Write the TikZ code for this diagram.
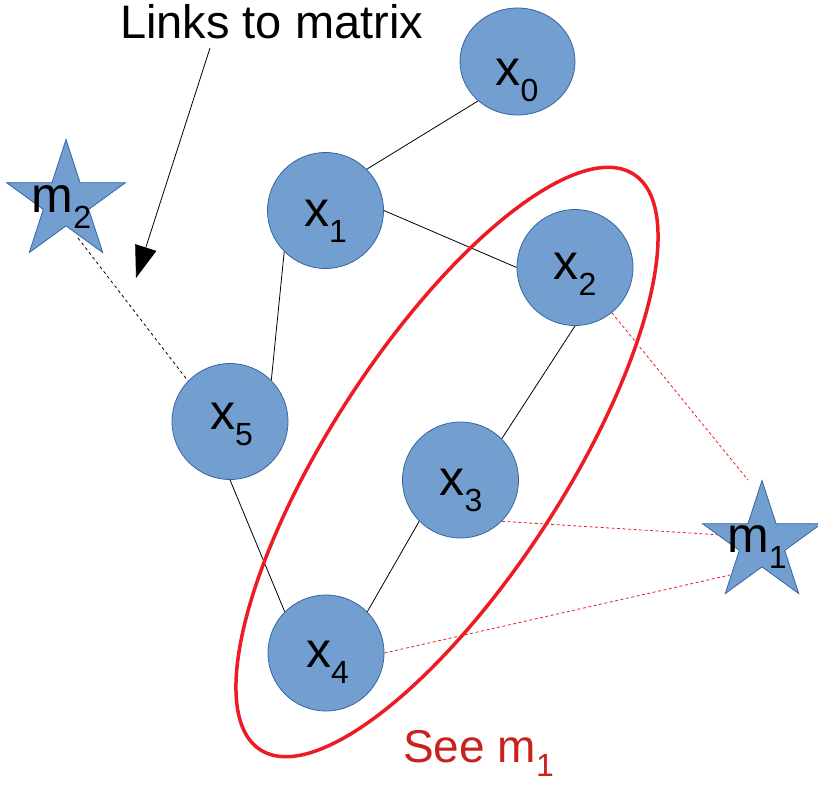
\documentclass[tikz,border=0pt]{standalone}
\usepackage{fontspec}
\setmainfont{Liberation Sans}
\usetikzlibrary{arrows.meta,shapes.geometric,backgrounds}
\definecolor{nodefill}{RGB}{114,159,207}
\definecolor{nodeline}{RGB}{52,101,164}
\definecolor{ringred}{RGB}{237,28,36}
\definecolor{notered}{RGB}{201,33,30}
% letter with a lowered index
\newcommand{\nlab}[2]{%
  {\fontsize{50}{50}\selectfont #1}\raisebox{-16pt}{\fontsize{32}{32}\selectfont #2}%
}

\begin{document}
\begin{tikzpicture}[x=1pt,y=-1pt,
  vtx/.style={circle,draw=nodeline,fill=nodefill,line width=0.8pt,minimum size=116pt,inner sep=0pt},
  lmk/.style={star,star points=5,star point ratio=2.618,draw=nodeline,fill=nodefill,line width=0.8pt,minimum size=125pt,inner sep=0pt},
  lbl/.style={anchor=base,inner sep=0pt},
  link/.style={line width=0.8pt},
  obs/.style={draw=ringred,line width=0.8pt,dash pattern=on 3pt off 2.5pt}]
  \useasboundingbox (0,0) rectangle (818,784);
  % vertices
  \node[vtx,ellipse,minimum width=115pt,minimum height=107pt] (x0) at (517.5,61.5) {};
  \node[vtx] (x1) at (325.5,210.5) {};
  \node[vtx] (x2) at (575,267.5) {};
  \node[vtx] (x3) at (460.5,480) {};
  \node[vtx] (x4) at (326,653) {};
  \node[vtx] (x5) at (230,421.5) {};
  \node[lmk] (m2) at (66,202) {};
  \node[lmk] (m1) at (762,543) {};
  \node[lbl] (x0t) at (517,85) {\nlab{x}{0}};
  \node[lbl] (x1t) at (325.5,226) {\nlab{x}{1}};
  \node[lbl] (x2t) at (575,279) {\nlab{x}{2}};
  \node[lbl] (x3t) at (461,495) {\nlab{x}{3}};
  \node[lbl] (x4t) at (327.5,667) {\nlab{x}{4}};
  \node[lbl] (x5t) at (231.5,429) {\nlab{x}{5}};
  \node[lbl] (m2t) at (61.5,212) {\nlab{m}{2}};
  \node[lbl] (m1t) at (757,552) {\nlab{m}{1}};
  \coordinate (m1a) at (748,480);
  \coordinate (m1b) at (722,535);
  \coordinate (m1c) at (730,575);
  \coordinate (m2a) at (78,238);
  \begin{scope}[on background layer]
    \draw[link] (x0.-135) -- (x1.45);
    \draw[link] (x1.east) -- (x2.west);
    \draw[link] (x1.-135) -- (x5.45);
    \draw[link] (x5.south) -- (x4.135);
    \draw[link] (x2.south) -- (x3.45);
    \draw[link] (x3.-135) -- (x4.45);
    \draw[obs] (x2) -- (m1a);
    \draw[obs] (x3.-45) -- (m1b);
    \draw[obs] (x4.east) -- (m1c);
  \end{scope}
  \draw[link,dash pattern=on 3pt off 3pt] (m2a) -- (x5.136);
  % the group round x2, x3, x4
  \node[draw=ringred,line width=3.5pt,ellipse,minimum width=686pt,minimum height=234pt,inner sep=0pt,rotate=57] (grp) at (447,462) {};
  \node[anchor=base west,inner sep=0pt,text=notered] (see) at (403,762)
    {{\fontsize{46}{46}\selectfont See m}\raisebox{-14pt}{\fontsize{32}{32}\selectfont 1}};
  % note with its arrow
  \node[anchor=base west,inner sep=0pt] (note) at (120,38) {\fontsize{47}{47}\selectfont Links to matrix};
  \coordinate (arrs) at (210,48);
  \coordinate (arre) at (136,278);
  \draw[link,-{Triangle[length=32pt,width=22pt]}] (arrs) -- (arre);
\end{tikzpicture}
\end{document}
